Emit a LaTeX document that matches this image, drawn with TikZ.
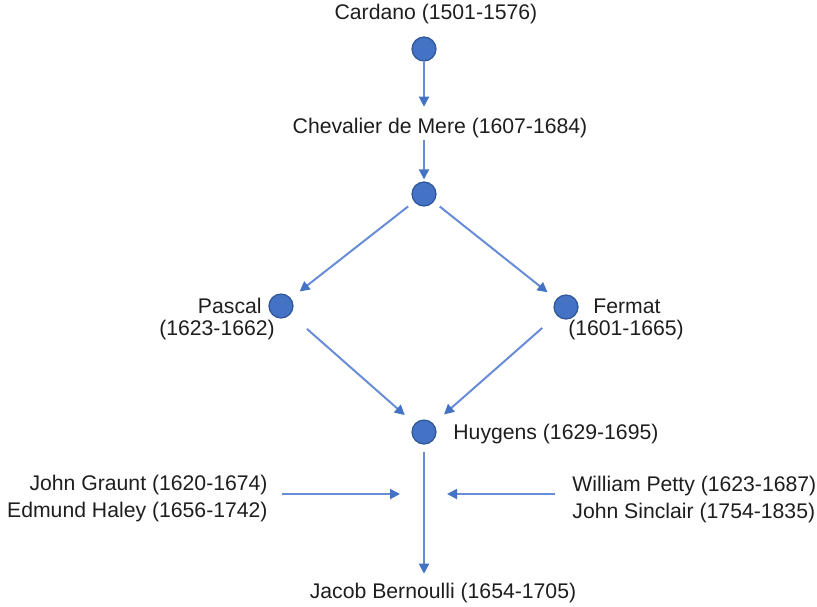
\documentclass[tikz,border=0pt]{standalone}
\usepackage{fontspec}
\setmainfont{Liberation Sans}
\usetikzlibrary{arrows.meta,positioning}
\definecolor{dotblue}{RGB}{68,114,196}
\definecolor{dotedge}{RGB}{47,85,151}
\definecolor{linkblue}{RGB}{104,140,214}
\definecolor{txt}{RGB}{30,30,30}

\begin{document}
\begin{tikzpicture}[x=0.5pt,y=-0.5pt,
  person/.style={circle,fill=dotblue,draw=dotedge,line width=0.6pt,
    minimum size=12pt,inner sep=0pt},
  who/.style={inner sep=0pt,text=txt,font=\fontsize{10.6}{13.5}\selectfont},
  link/.style={draw=linkblue,line width=1pt,
    -{Triangle[length=5pt,width=5pt,color=dotblue]}}]
  \useasboundingbox (0,0) rectangle (817,606);
  % people, top to bottom
  \node[who] (cardano) at (436,14) {Cardano (1501-1576)};
  \node[person] (c1) at (424,49) {};
  \node[who] (mere) at (440,128) {Chevalier de Mere (1607-1684)};
  \node[person] (c2) at (424,194) {};
  \node[person] (pascal) at (281,306) {};
  \node[who,anchor=east] (pascalname) at (262,306) {Pascal};
  \node[who] (pascaldate) at (217,330) {(1623-1662)};
  \node[person] (fermat) at (566,307) {};
  \node[who,anchor=west] (fermatname) at (593,306) {Fermat};
  \node[who] (fermatdate) at (626,330) {(1601-1665)};
  \node[person] (huygens) at (424,432) {};
  \node[who,anchor=west] (huygensname) at (453,434) {Huygens (1629-1695)};
  \node[who] (bernoulli) at (443,593) {Jacob Bernoulli (1654-1705)};
  \node[who,anchor=east,align=right] (graunt) at (268,499)
    {John Graunt (1620-1674)\\Edmund Haley (1656-1742)};
  \node[who,anchor=west,align=left] (petty) at (572,499)
    {William Petty (1623-1687)\\John Sinclair (1754-1835)};
  \coordinate (midL) at (400,494);
  \coordinate (midR) at (447,494);
  % links
  \draw[link,shorten >=5.5pt] (c1) -- (c1 |- mere.north);
  \draw[link,shorten <=1pt,shorten >=1pt] (c2 |- mere.south) -- (c2);
  \draw[link,shorten <=3.75pt,shorten >=5.5pt] (c2) -- (pascal);
  \draw[link,shorten <=3.75pt,shorten >=5.5pt] (c2) -- (fermat);
  \draw[link,shorten <=11pt,shorten >=6.5pt] (pascal) -- (huygens);
  \draw[link,shorten <=9.5pt,shorten >=7pt] (fermat) -- (huygens);
  \draw[link,shorten <=3.75pt,shorten >=4.5pt]
    (huygens) -- (huygens |- bernoulli.north);
  \draw[link,shorten <=7pt] (graunt.east |- midL) -- (midL);
  \draw[link,shorten <=8.5pt] (petty.west |- midR) -- (midR);
\end{tikzpicture}
\end{document}
